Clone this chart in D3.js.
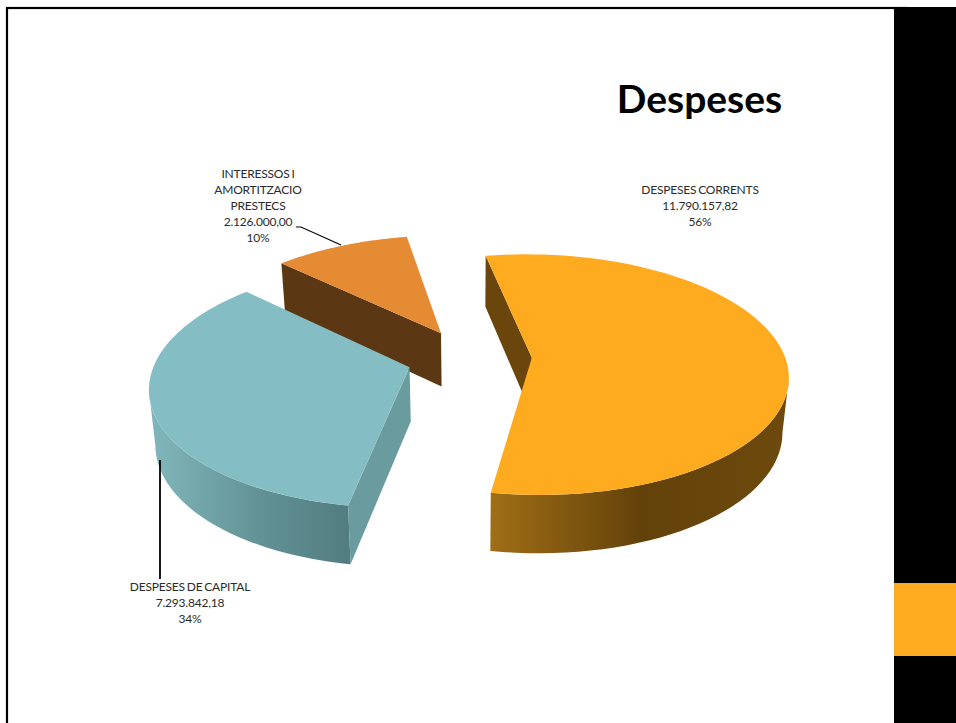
<!DOCTYPE html>
<html>
<head>
<meta charset="utf-8">
<script src="https://cdn.jsdelivr.net/npm/d3@7"></script>
<style>
  html, body { margin: 0; padding: 0; background: #fff; }
  svg { display: block; }
  text { font-family: Lato, "Open Sans", sans-serif; }
</style>
</head>
<body>
<svg></svg>
<script>
const categories = [["DESPESES CORRENTS"], ["DESPESES DE CAPITAL"], ["INTERESSOS I", "AMORTITZACIO", "PRESTECS"]];
const values = [11790157.82, 7293842.18, 2126000.0];
const topColors = ["#ffab20", "#84bec4", "#e58b34"];
const title = "Despeses";

const width = 956;
const height = 723;

// fake 3d: flat pie plane pushed through a small perspective
const cx = 469.5, cy = 358, rx = 253.5, ry = 118;
const persp = 0.14, depth = 54, explode = 0.246, shear = -2, taper = 0.98;

const svg = d3.select("svg").attr("width", width).attr("height", height);
const defs = svg.append("defs");

const locale = d3.formatLocale({ decimal: ",", thousands: ".", grouping: [3], currency: ["", ""] });
const fmtValue = locale.format(",.2f");
const total = d3.sum(values);
const fmtPct = d3.format(".0%");

// slide background
svg.append("rect").attr("x", 7).attr("y", 8).attr("width", 900).attr("height", 730)
  .attr("fill", "#fff").attr("stroke", "#000").attr("stroke-width", 2.2);
svg.append("rect").attr("x", 894).attr("y", 7).attr("width", 62).attr("height", 716).attr("fill", "#000");
svg.append("rect").attr("x", 894).attr("y", 583).attr("width", 62).attr("height", 73).attr("fill", topColors[0]);

const startAngle = -10.5 * Math.PI / 180;
const arcs = d3.pie().sort(null).startAngle(startAngle).endAngle(startAngle + 2 * Math.PI)(values);

const kOf = v => 1 / (1 - persp * v);
const project = (u, v) => {
  const k = kOf(v);
  return { x: cx + rx * u * k + shear * v, y: cy + ry * v * k, k };
};
// bottom face: same point dropped down, pulled slightly towards the middle
const lower = p => ({ x: cx + (p.x - cx) * taper, y: p.y + depth * (0.5 + 0.5 * p.k) });

const pieces = arcs.map(a => {
  const mid = (a.startAngle + a.endAngle) / 2;
  const ox = Math.sin(mid) * explode;
  const oy = -Math.cos(mid) * explode;
  const at = (ang, r) => project(ox + Math.sin(ang) * r, oy - Math.cos(ang) * r);
  const n = 80;
  const rim = d3.range(n + 1).map(i => at(a.startAngle + (a.endAngle - a.startAngle) * i / n, 1));
  return { rim, apex: at(0, 0) };
});

const line = d3.line().x(d => d.x).y(d => d.y);
const closed = pts => line(pts) + "Z";
const quad = (p, q) => closed([p, q, lower(q), lower(p)]);

function sideGradient(id, x1, x2, stops) {
  const g = defs.append("linearGradient").attr("id", id)
    .attr("gradientUnits", "userSpaceOnUse")
    .attr("x1", x1).attr("x2", x2).attr("y1", 0).attr("y2", 0);
  stops.forEach(s => g.append("stop").attr("offset", s[0]).attr("stop-color", s[1]));
  return `url(#${id})`;
}

const chart = svg.append("g");

// interest slice sits behind, only its long cut face shows
const interest = pieces[2];
chart.append("path").attr("d", quad(interest.rim[0], interest.apex)).attr("fill", "#5c3713");
chart.append("path").attr("d", closed([interest.apex, ...interest.rim])).attr("fill", topColors[2]);

// capital slice, outer wall runs from the near end to the leftmost point
const capital = pieces[1];
const capFront = capital.rim.slice(0, d3.leastIndex(capital.rim, (a, b) => a.x - b.x) + 1);
const capFill = sideGradient("capSide", capital.rim[0].x, 152, [[0, "#527c80"], [0.45, "#629296"], [1, "#80b6bb"]]);
chart.append("path").attr("d", closed([...capFront, ...capFront.map(lower).reverse()])).attr("fill", capFill);
chart.append("path").attr("d", quad(capital.apex, capital.rim[0])).attr("fill", "#6a9b9f");
chart.append("path").attr("d", closed([capital.apex, ...capital.rim])).attr("fill", topColors[1]);

// current spending slice, outer wall from the rightmost point to the near end
const current = pieces[0];
const curFront = current.rim.slice(d3.leastIndex(current.rim, (a, b) => b.x - a.x));
const curFill = sideGradient("curSide", current.rim[80].x, 790, [[0, "#a06e16"], [0.5, "#63420a"], [1, "#6d490c"]]);
chart.append("path").attr("d", quad(current.rim[0], current.apex)).attr("fill", "#6a460c");
chart.append("path").attr("d", closed([...curFront, ...curFront.map(lower).reverse()])).attr("fill", curFill);
chart.append("path").attr("d", closed([current.apex, ...current.rim])).attr("fill", topColors[0]);

// leader lines
svg.append("path").attr("d", "M296,227H301L341,245").attr("fill", "none").attr("stroke", "#000").attr("stroke-width", 1.2);
svg.append("path").attr("d", "M160,460V579").attr("fill", "none").attr("stroke", "#000").attr("stroke-width", 1.8);

// labels
const labelAt = [[700, 194], [190, 591], [258, 178]];
categories.forEach((cat, i) => {
  const lines = [...cat, fmtValue(values[i]), fmtPct(values[i] / total)];
  svg.append("text")
    .attr("text-anchor", "middle")
    .attr("font-size", 12)
    .attr("letter-spacing", -0.2)
    .attr("word-spacing", -1)
    .attr("fill", "#2b2b2b")
    .selectAll("tspan")
    .data(lines)
    .join("tspan")
    .attr("x", labelAt[i][0])
    .attr("y", (d, j) => labelAt[i][1] + j * 16)
    .text(d => d);
});

svg.append("text")
  .attr("x", 699.5).attr("y", 113)
  .attr("text-anchor", "middle")
  .attr("font-size", 39)
  .attr("font-weight", 700)
  .attr("fill", "#000")
  .text(title);
</script>
</body>
</html>
